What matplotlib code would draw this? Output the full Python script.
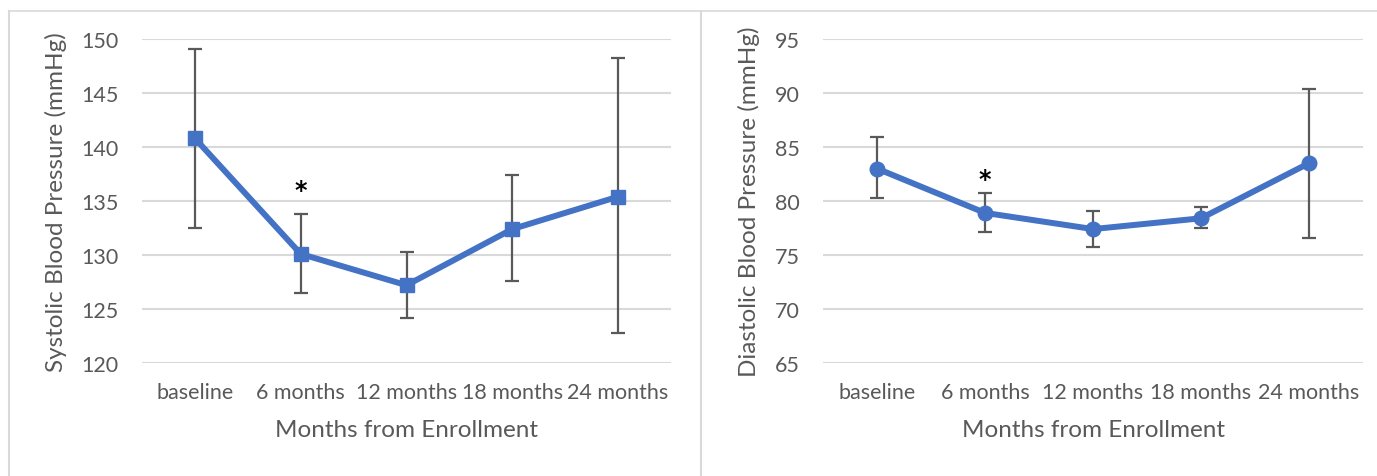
import matplotlib.pyplot as plt
from matplotlib.lines import Line2D

plt.rcParams['font.family'] = ['Lato', 'DejaVu Sans']

months = ['baseline', '6 months', '12 months', '18 months', '24 months']

sbp_mean = [140.8, 130.1, 127.2, 132.4, 135.4]
sbp_upper = [149.1, 133.8, 130.3, 137.4, 148.2]
sbp_lower = [132.5, 126.5, 124.2, 127.6, 122.8]

dbp_mean = [83.0, 78.9, 77.4, 78.4, 83.5]
dbp_upper = [85.9, 80.7, 79.1, 79.4, 90.4]
dbp_lower = [80.3, 77.1, 75.7, 77.5, 76.6]

BLUE = '#4472C4'
GREY = '#595959'
GRID = '#D9D9D9'


def draw_panel(ax, mean, upper, lower, marker, ylim, ylabel, star_y):
    x = list(range(len(months)))
    yerr = [[m - lo for m, lo in zip(mean, lower)],
            [up - m for m, up in zip(mean, upper)]]
    ax.errorbar(x, mean, yerr=yerr, fmt='none', ecolor=GREY,
                elinewidth=1.6, capsize=5, capthick=1.6, zorder=2)
    ax.plot(x, mean, color=BLUE, linewidth=4.3, marker=marker,
            markersize=10.5, markerfacecolor=BLUE, markeredgecolor=BLUE,
            zorder=3, solid_joinstyle='round')
    ax.text(1, star_y, '*', ha='center', va='center', fontsize=17,
            fontweight='bold', color='black', family='DejaVu Sans')
    ax.set_xlim(-0.5, len(months) - 0.5)
    ax.set_ylim(*ylim)
    ax.set_yticks(range(ylim[0], ylim[1] + 1, 5))
    ax.set_xticks(x)
    ax.set_xticklabels(months)
    ax.grid(axis='y', color=GRID, linewidth=1.5)
    ax.set_axisbelow(True)
    for s in ax.spines.values():
        s.set_visible(False)
    ax.tick_params(axis='both', length=0, labelsize=15.5, colors=GREY)
    ax.tick_params(axis='y', pad=17)
    ax.tick_params(axis='x', pad=14)
    ax.set_xlabel('Months from Enrollment', fontsize=17.5, color=GREY,
                  labelpad=12)
    ax.set_ylabel(ylabel, fontsize=17.5, color=GREY, labelpad=10)


fig = plt.figure(figsize=(13.77, 4.77), dpi=100)
ax1 = fig.add_axes([142 / 1377, 113 / 477, 529 / 1377, 324 / 477])
ax2 = fig.add_axes([823 / 1377, 113 / 477, 540 / 1377, 324 / 477])

draw_panel(ax1, sbp_mean, sbp_upper, sbp_lower, 's', (120, 150),
           'Systolic Blood Pressure (mmHg)', 136.0)
draw_panel(ax2, dbp_mean, dbp_upper, dbp_lower, 'o', (65, 95),
           'Diastolic Blood Pressure (mmHg)', 82.0)

# chart frames
top = 1 - 11.5 / 477
fig.add_artist(Line2D([9 / 1377, 1], [top, top], color=GRID, linewidth=1.2))
fig.add_artist(Line2D([9 / 1377, 9 / 1377], [0, top], color=GRID, linewidth=1.5))
fig.add_artist(Line2D([701 / 1377, 701 / 1377], [0, top], color=GRID, linewidth=1.5))

fig.savefig('out.png', dpi=100)
